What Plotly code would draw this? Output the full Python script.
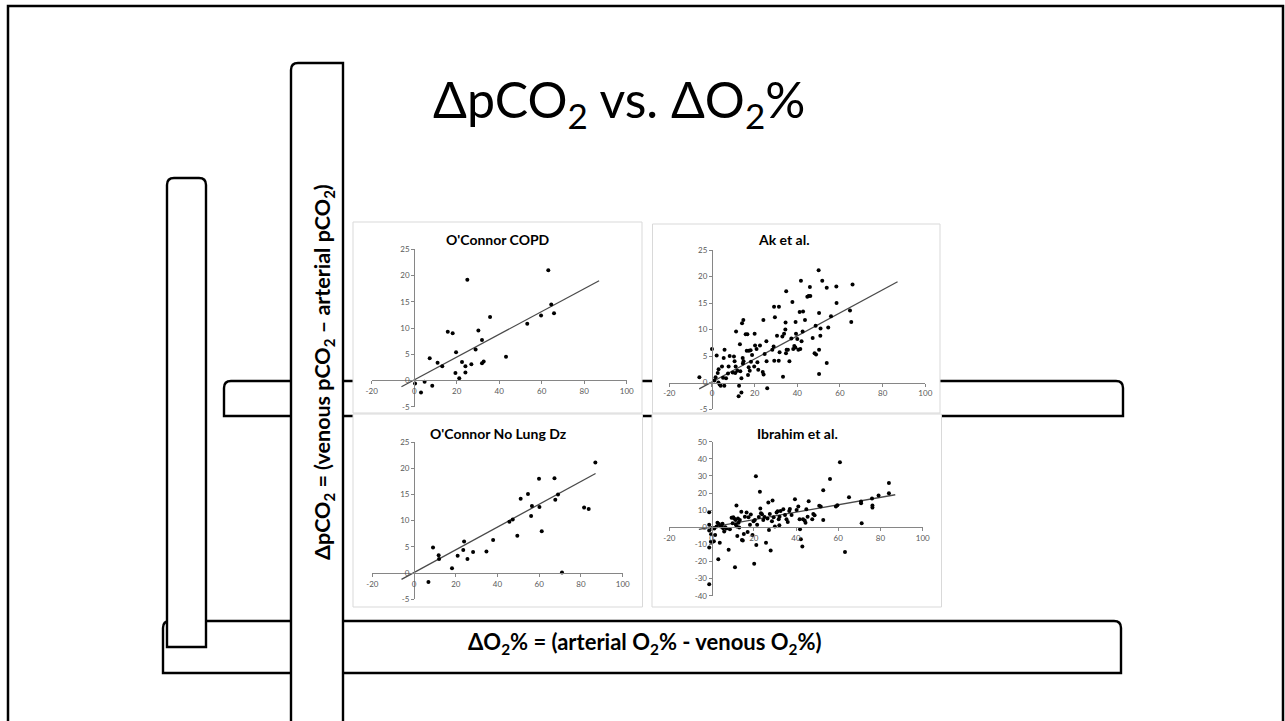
import plotly.graph_objects as go

W, H = 1285, 721

# ---------------- data ----------------
panel_titles = ["O'Connor COPD", "Ak et al.", "O'Connor No Lung Dz", "Ibrahim et al."]

copd_x = [0.4, 3.2, 4.9, 8.5, 7.3, 11.0, 13.2, 15.8, 18.1, 19.7, 19.4, 21.2, 22.5, 24.1, 24.1,
          25.0, 26.9, 28.9, 30.2, 31.9, 31.9, 32.7, 35.7, 43.2, 53.2, 59.7, 63.1, 64.5, 65.8]
copd_y = [-0.6, -2.3, -0.25, -1.0, 4.25, 3.4, 2.7, 9.3, 9.0, 5.4, 1.4, 0.4, 3.5, 2.7, 1.5,
          19.2, 3.1, 5.9, 9.5, 7.7, 3.3, 3.6, 12.1, 4.5, 10.8, 12.4, 21.0, 14.5, 12.8]

ak_x = [-5.9, 0.0, 1.1, 1.7, 2.2, 2.7, 3.1, 3.0, 3.6, 4.1, 4.7, 5.2, 5.5, 5.8, 5.9, 6.6, 7.5, 7.8,
        8.3, 9.7, 10.3, 10.6, 11.1, 10.9, 11.3, 11.9, 12.5, 12.7, 13.1, 13.3, 13.8, 13.8, 14.1,
        14.4, 14.7, 14.5, 14.8, 15.8, 16.6, 16.3, 16.9, 17.2, 17.3, 17.7, 18.1, 18.3, 18.8, 19.8,
        20.0, 20.2, 20.9, 21.3, 21.7, 22.5, 23.8, 24.1, 24.2, 24.7, 25.5, 25.6, 25.9, 28.3, 28.9,
        29.1, 29.5, 29.2, 30.5, 31.3, 31.4, 31.7, 33.0, 33.3, 33.8, 34.4, 34.5, 34.8, 34.7, 35.0,
        35.6, 36.3, 37.2, 37.7, 38.1, 38.6, 39.1, 39.2, 39.4, 40.0, 40.5, 41.1, 41.4, 41.7, 42.0,
        42.5, 42.7, 43.6, 44.7, 45.3, 45.9, 46.1, 47.2, 48.1, 48.8, 48.6, 50.0, 50.2, 50.2, 50.2,
        50.8, 50.9, 51.7, 53.8, 53.8, 54.5, 55.8, 58.3, 58.4, 64.7, 65.3, 65.9]
ak_y = [1.0, 6.3, 0.4, 1.0, 5.1, 1.8, 2.5, 0.0, -0.4, -0.6, 3.0, 0.9, 4.6, -0.6, 6.2, 0.8, 1.7, 3.0,
        5.0, 1.9, 4.9, 4.0, 3.0, 1.8, 9.6, 2.2, -2.6, -0.6, 7.2, 2.1, 0.8, -1.9, 11.2,
        4.6, 11.8, 3.6, 4.0, 9.1, 9.1, 6.0, 1.4, 2.9, 6.0, 2.2, 6.1, 3.9, 5.2, 3.0,
        9.2, 7.0, 6.3, 3.8, 2.4, 7.0, 2.0, 11.8, 1.5, 5.4, 7.8, 4.0, -1.1, 6.2, 6.8,
        14.3, 12.3, 4.1, 8.8, 4.1, 14.3, 5.7, 8.7, 1.1, 9.2, 10.0, 11.3, 17.2, 5.5, 6.2,
        6.2, 4.0, 8.3, 15.2, 6.3, 6.9, 6.6, 11.4, 9.2, 8.2, 6.2, 13.3, 6.3, 19.2, 7.8,
        9.6, 13.4, 11.8, 16.2, 16.3, 18.0, 16.3, 8.4, 5.5, 5.3, 10.7, 21.2, 13.1, 6.2, 1.6,
        8.8, 10.2, 19.2, 3.7, 17.9, 10.4, 12.5, 18.1, 15.0, 13.6, 11.4, 18.5]

nolung_x = [6.9, 9.1, 11.8, 12.0, 18.2, 20.9, 23.6, 24.0, 25.6, 28.3, 34.7, 37.9, 45.7, 47.3, 49.5,
            51.1, 54.6, 56.1, 56.5, 59.9, 60.1, 61.2, 67.3, 67.7, 69.0, 70.9, 81.5, 83.7, 86.9]
nolung_y = [-1.7, 4.9, 3.4, 2.7, 0.9, 3.3, 4.4, 6.0, 2.7, 4.0, 4.1, 6.3, 9.8, 10.2, 7.1,
            14.2, 15.1, 10.9, 12.8, 18.0, 12.6, 8.0, 18.1, 14.0, 15.0, 0.1, 12.5, 12.2, 21.1]

ibr_x = [-1.1, -1.1, -1.1, -1.1, -1.1, -0.3, -0.2, 0.2, 0.5, 1.1, 1.3, 1.7, 2.4, 2.8, 3.2, 3.5,
         3.9, 4.3, 4.7, 5.2, 5.5, 6.0, 6.5, 7.1, 8.1, 8.7, 9.5, 10.0, 10.3, 10.7, 11.1, 11.4,
         11.5, 11.8, 12.0, 12.2, 12.5, 12.8, 13.1, 13.4, 14.1, 14.4, 14.8, 15.3, 15.8, 16.6,
         17.1, 17.5, 18.2, 18.6, 19.4, 19.9, 20.2, 20.5, 21.0, 21.2, 21.6, 22.4, 22.9, 23.1,
         23.4, 23.9, 24.5, 25.1, 25.8, 26.5, 26.9, 27.2, 27.6, 28.0, 28.6, 28.9, 29.4, 30.0,
         30.8, 31.3, 31.8, 32.1, 32.2, 32.7, 34.0, 34.8, 35.5, 36.1, 36.8, 37.1, 37.9, 39.5,
         40.3, 41.1, 41.7, 41.9, 42.3, 43.0, 43.3, 44.1, 44.5, 44.9, 45.5, 46.0, 47.7, 48.2,
         48.8, 51.0, 51.7, 52.9, 52.9, 56.1, 58.9, 59.6, 60.8, 63.2, 65.1, 70.8, 70.8, 71.1,
         76.0, 76.2, 76.2, 79.1, 84.0, 84.0]
ibr_y = [8.8, 1.4, -1.9, -11.9, -33.3, -8.4, -4.1, -0.6, -8.4, -8.2, -0.8, -4.5, 0.4, 2.7, -18.7, 1.9,
         -9.0, 0.4, 0.8, 2.1, -0.6, -2.5, 0.0, -0.8, -13.2, -1.2, 5.5, 2.3, 5.8, 5.1, -23.4, 4.3,
         1.4, 12.7, 0.4, -5.1, 5.1, 2.7, -0.2, 4.3, 9.0, -7.4, -7.8, -3.9, 6.2, 8.6,
         -2.7, 5.8, 1.4, 7.4, -4.5, 3.5, -21.4, 4.3, 29.8, -10.3, 1.4, 6.0, 20.8, 10.9,
         8.2, 7.6, 4.3, 6.0, -9.0, 5.1, 14.4, -1.6, 7.8, -13.6, 3.5, 15.6, 5.8, 0.4,
         8.6, 9.4, 4.7, 1.2, 6.2, 9.5, 10.5, 7.2, 4.7, 3.1, 9.5, 10.7, 7.2, 16.4,
         10.1, 12.1, 4.7, -1.2, -7.0, -11.3, 4.7, 3.9, 2.7, 10.5, 6.2, 15.2, 4.7, 7.8,
         7.0, 12.5, 12.1, 21.6, 4.3, 28.2, 12.1, 12.9, 38.0, -14.4, 17.5, 15.0, 14.0, 2.3,
         16.8, 12.7, 11.5, 18.5, 25.9, 19.9]

trend_x = [-6, 87]
trend_y = [-1.2, 19.0]

x_ticks = [-20, 0, 20, 40, 60, 80, 100]
y_ticks_small = [-5, 0, 5, 10, 15, 20, 25]
y_ticks_ibr = [-40, -30, -20, -10, 0, 10, 20, 30, 40, 50]

series_x = [copd_x, ak_x, nolung_x, ibr_x]
series_y = [copd_y, ak_y, nolung_y, ibr_y]
y_ticks = [y_ticks_small, y_ticks_small, y_ticks_small, y_ticks_ibr]

# ---------------- geometry (pixels) ----------------
plot_px = [
    (371.7, 626.7, 249.3, 406.7),
    (669.3, 925.3, 250.0, 409.0),
    (372.3, 622.7, 442.0, 599.3),
    (669.3, 922.7, 441.7, 595.7),
]
x_range = [-20, 100]
y_ranges = [[-5, 25], [-5, 25], [-5, 25], [-40, 50]]
panel_box = [
    (353, 222, 642, 413),
    (652.5, 224, 940, 413),
    (353, 414, 642.5, 607),
    (652, 414, 941.5, 607),
]
title_pos = [(498, 239), (783.5, 239), (498, 434), (797, 434)]


def fx(p):
    return p / W


def fy(p):
    return 1 - p / H


AXIS_GREY = "#868686"
TICK_FONT = dict(family="Lato", size=8, color="#595959")

fig = go.Figure()
layout_axes = {}

for i in range(4):
    n = "" if i == 0 else str(i + 1)
    L, R, T, B = plot_px[i]
    xd = [fx(L), fx(R)]
    yd = [fy(B), fy(T)]
    ymin, ymax = y_ranges[i]
    xpos = yd[0] + (0 - ymin) / (ymax - ymin) * (yd[1] - yd[0])
    ypos = xd[0] + (0 - x_range[0]) / (x_range[1] - x_range[0]) * (xd[1] - xd[0])
    layout_axes["xaxis" + n] = dict(
        domain=xd, range=x_range, anchor="free", position=xpos, automargin=False,
        showgrid=False, zeroline=False, showline=True, linecolor=AXIS_GREY, linewidth=1,
        ticks="outside", ticklen=3, tickcolor=AXIS_GREY, tickwidth=1,
        tickmode="array", tickvals=x_ticks, ticktext=[str(v) for v in x_ticks],
        tickfont=TICK_FONT, fixedrange=True,
    )
    layout_axes["yaxis" + n] = dict(
        domain=yd, range=[ymin, ymax], anchor="free", position=ypos, automargin=False,
        showgrid=False, zeroline=False, showline=True, linecolor=AXIS_GREY, linewidth=1,
        ticks="outside", ticklen=3, tickcolor=AXIS_GREY, tickwidth=1,
        tickmode="array", tickvals=y_ticks[i], ticktext=[str(v) for v in y_ticks[i]],
        tickfont=TICK_FONT, fixedrange=True,
    )
    fig.add_trace(go.Scatter(
        x=trend_x, y=trend_y, mode="lines", xaxis="x" + n, yaxis="y" + n,
        line=dict(color="#4a4a4a", width=1.3), hoverinfo="skip", showlegend=False,
    ))
    fig.add_trace(go.Scatter(
        x=series_x[i], y=series_y[i], mode="markers", xaxis="x" + n, yaxis="y" + n,
        marker=dict(color="black", size=4, line=dict(width=0)), showlegend=False,
    ))


def rrect(x0, y0, x1, y1, r, tl=True, tr=True):
    if tl:
        s = "M{},{} Q{},{} {},{}".format(fx(x0), fy(y0 + r), fx(x0), fy(y0), fx(x0 + r), fy(y0))
    else:
        s = "M{},{}".format(fx(x0), fy(y0))
    if tr:
        s += " L{},{} Q{},{} {},{}".format(fx(x1 - r), fy(y0), fx(x1), fy(y0), fx(x1), fy(y0 + r))
    else:
        s += " L{},{}".format(fx(x1), fy(y0))
    s += " L{},{} L{},{} Z".format(fx(x1), fy(y1), fx(x0), fy(y1))
    return s


shapes = []
shapes.append(dict(type="rect", xref="paper", yref="paper", x0=fx(8), x1=fx(1283), y0=fy(760), y1=fy(6),
                   line=dict(color="black", width=2.5), fillcolor="rgba(0,0,0,0)", layer="below"))
rects = [
    (224, 381, 1123, 416, True, True),   # middle horizontal band
    (163, 621, 1121, 673, True, True),   # bottom horizontal band
    (167, 178, 206, 647, True, True),    # short vertical band
    (291, 63, 343, 760, True, False),    # tall vertical band
]
for (a, b, c, d, tl, tr) in rects:
    shapes.append(dict(type="path", xref="paper", yref="paper", path=rrect(a, b, c, d, 7, tl, tr),
                       line=dict(color="black", width=2.4), fillcolor="white", layer="below"))
for (a, b, c, d) in panel_box:
    shapes.append(dict(type="rect", xref="paper", yref="paper", x0=fx(a), x1=fx(c), y0=fy(d), y1=fy(b),
                       line=dict(color="#d9d9d9", width=1), fillcolor="white", layer="below"))

annotations = []
for i in range(4):
    annotations.append(dict(
        text="<b>" + panel_titles[i] + "</b>", x=fx(title_pos[i][0]), y=fy(title_pos[i][1]),
        xref="paper", yref="paper", showarrow=False, xanchor="center", yanchor="middle",
        font=dict(family="Lato", size=14, color="black"),
    ))
annotations.append(dict(
    text="ΔpCO<sub>2</sub> vs. ΔO<sub>2</sub>%", x=fx(619), y=fy(103), xref="paper", yref="paper",
    showarrow=False, xanchor="center", yanchor="middle", font=dict(family="Lato", size=50, color="black"),
))
annotations.append(dict(
    text="<b>ΔO<sub>2</sub>% = (arterial O<sub>2</sub>% - venous O<sub>2</sub>%)</b>", x=fx(645), y=fy(643),
    xref="paper", yref="paper", showarrow=False, xanchor="center", yanchor="middle",
    font=dict(family="Lato", size=22, color="black"),
))
annotations.append(dict(
    text="<b>ΔpCO<sub>2</sub> = (venous pCO<sub>2</sub> – arterial pCO<sub>2</sub>)</b>", x=fx(323), y=fy(372),
    xref="paper", yref="paper", showarrow=False, xanchor="center", yanchor="middle", textangle=-90,
    font=dict(family="Lato", size=21.5, color="black"),
))

fig.update_layout(
    width=W, height=H, margin=dict(l=0, r=0, t=0, b=0, pad=0), autosize=False,
    paper_bgcolor="white", plot_bgcolor="rgba(0,0,0,0)",
    shapes=shapes, annotations=annotations, showlegend=False,
    **layout_axes,
)

fig.write_html(
    "out.html",
    config={"displayModeBar": False},
    post_script="document.body.style.margin='0';document.body.style.overflow='hidden';",
)
